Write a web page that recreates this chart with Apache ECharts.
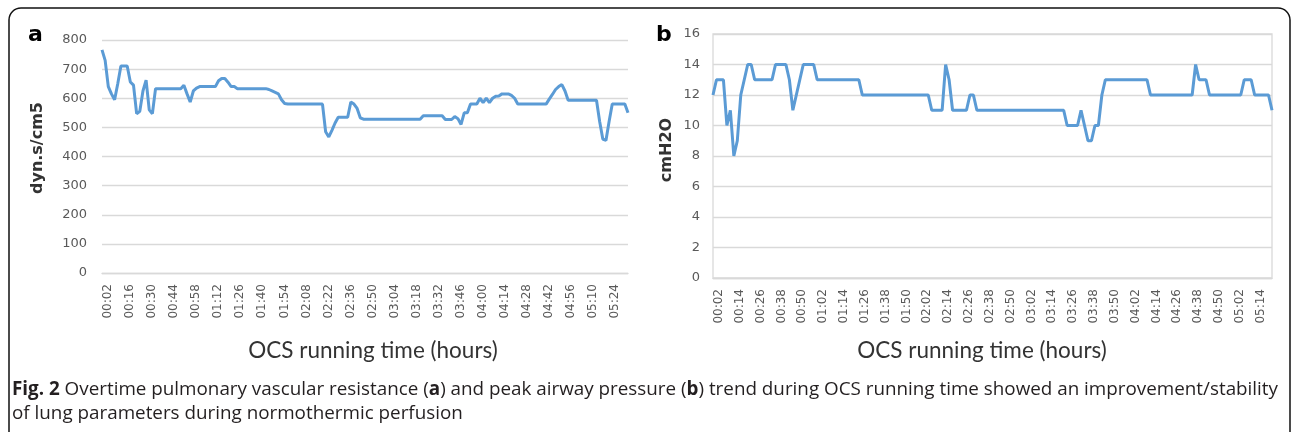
<!DOCTYPE html>
<html><head><meta charset="utf-8">
<script src="https://cdn.jsdelivr.net/npm/echarts@6/dist/echarts.min.js"></script>
<style>html,body{margin:0;padding:0;background:#fff;}#c{width:1292px;height:432px;}</style>
</head><body><div id="c"></div>
<script>
// ---- data ----
// (a) pulmonary vascular resistance, dyn.s/cm5, one reading every 2 minutes from 00:02
const pvrValues = [
  766,730,640,615,595,650,711,711,711,656,
  645,547,555,625,662,560,547,633,633,633,
  633,633,633,633,633,633,645,615,587,625,
  635,640,640,640,640,640,640,660,668,668,
  655,640,640,633,633,633,633,633,633,633,
  633,633,633,630,625,620,615,595,582,580,
  580,580,580,580,580,580,580,580,580,580,
  580,485,467,490,515,535,535,535,535,587,
  580,565,533,528,528,528,528,528,528,528,
  528,528,528,528,528,528,528,528,528,528,
  528,528,540,540,540,540,540,540,540,527,
  527,527,537,530,510,550,550,580,580,580,
  600,585,600,585,600,607,608,615,615,615,
  610,600,580,580,580,580,580,580,580,580,
  580,580,597,613,630,640,647,625,593,593,
  593,593,593,593,593,593,593,593,520,460,
  455,520,580,580,580,580,580,550
];
// (b) peak airway pressure, cmH2O, one reading every 2 minutes from 00:02
const pawValues = [
  12,13,13,13,10,11,8,9,12,13,
  14,14,13,13,13,13,13,13,14,14,
  14,14,13,11,12,13,14,14,14,14,
  13,13,13,13,13,13,13,13,13,13,
  13,13,13,12,12,12,12,12,12,12,
  12,12,12,12,12,12,12,12,12,12,
  12,12,12,11,11,11,11,14,13,11,
  11,11,11,11,12,12,11,11,11,11,
  11,11,11,11,11,11,11,11,11,11,
  11,11,11,11,11,11,11,11,11,11,
  11,11,10,10,10,10,11,10,9,9,
  10,10,12,13,13,13,13,13,13,13,
  13,13,13,13,13,13,12,12,12,12,
  12,12,12,12,12,12,12,12,12,14,
  13,13,13,12,12,12,12,12,12,12,
  12,12,12,13,13,13,12,12,12,12,
  12,11
];
const startMinute = 2;
const stepMinutes = 2;
function hhmm(m){const h=Math.floor(m/60),mm=m%60;return String(h).padStart(2,'0')+':'+String(mm).padStart(2,'0');}
const pvrCategories = pvrValues.map((_, i) => hhmm(startMinute + stepMinutes * i));
const pawCategories = pawValues.map((_, i) => hhmm(startMinute + stepMinutes * i));
const pvrAxis = {min: 0, max: 800, interval: 100};
const pawAxis = {min: 0, max: 16, interval: 2};
const pvrLabelEvery = 7;   // 14 minutes
const pawLabelEvery = 6;   // 12 minutes
const panelLetters = ['a', 'b'];
const yNames = ['dyn.s/cm5', 'cmH2O'];
const xName = 'OCS running time (hours)';
const captionLine1 = [
  ['Fig. 2', true], [' Overtime pulmonary vascular resistance (', false], ['a', true],
  [') and peak airway pressure (', false], ['b', true],
  [') trend during OCS running time showed an improvement/stability', false]
];
const captionLine2 = [['of lung parameters during normothermic perfusion', false]];

// ---- styling ----
const LINE = '#5b9bd5', GRID = '#d9d9d9', TICK = '#595959';
const CAP_FONT = '"Open Sans"', CAP_SIZE = 19;
const cv = document.createElement('canvas').getContext('2d');
function measure(parts){let w=0;for(const [t,b] of parts){cv.font=(b?'bold ':'')+CAP_SIZE+'px '+CAP_FONT;w+=cv.measureText(t).width;}return w;}
function rich(parts){return parts.map(([t,b])=>b?'{b|'+t+'}':t.replace(/[{}|]/g,'')).join('');}
const CAP_X = 12, CAP_RIGHT = 1278;
const cap1Scale = (CAP_RIGHT - CAP_X) / measure(captionLine1);
const cap2Scale = cap1Scale;

const chart = echarts.init(document.getElementById('c'), null, {renderer: 'canvas'});
function xAxisCfg(cats, every, gridIndex){
  return {type:'category', gridIndex, data:cats, boundaryGap:false,
    axisLine:{show:true, lineStyle:{color:GRID, width:1.3}}, axisTick:{show:false},
    axisLabel:{rotate:90, interval:every-1, color:TICK, fontSize:12, fontFamily:'DejaVu Sans', margin:11, verticalAlign:'top'},
    splitLine:{show:false}};
}
function yAxisCfg(ax, gridIndex, margin){
  return {type:'value', gridIndex, min:ax.min, max:ax.max, interval:ax.interval,
    axisLine:{show:false}, axisTick:{show:false},
    axisLabel:{color:TICK, fontSize:13, fontFamily:'DejaVu Sans', margin},
    splitLine:{show:true, lineStyle:{color:GRID, width:1.3}}};
}
const richStyle = {b:{fontWeight:'bold', fontSize:CAP_SIZE, fontFamily:CAP_FONT, fill:'#231f20'}};
chart.setOption({
  animation:false,
  backgroundColor:'#fff',
  grid:[
    {left:102, top:40, width:526, height:233},
    {left:713, top:34, width:559, height:244, show:true, borderColor:GRID, borderWidth:1.3, backgroundColor:'transparent'}
  ],
  xAxis:[xAxisCfg(pvrCategories, pvrLabelEvery, 0), xAxisCfg(pawCategories, pawLabelEvery, 1)],
  yAxis:[yAxisCfg(pvrAxis, 0, 15), yAxisCfg(pawAxis, 1, 13)],
  series:[
    {type:'line', xAxisIndex:0, yAxisIndex:0, data:pvrValues, showSymbol:false, lineStyle:{color:LINE, width:3}, itemStyle:{color:LINE}},
    {type:'line', xAxisIndex:1, yAxisIndex:1, data:pawValues, showSymbol:false, lineStyle:{color:LINE, width:3}, itemStyle:{color:LINE}}
  ],
  graphic:[
    {type:'rect', z:-1, shape:{x:9, y:8, width:1281, height:440, r:12}, style:{fill:'none', stroke:'#111', lineWidth:1.5}},
    {type:'text', x:28, y:35, style:{text:panelLetters[0], fontSize:22, fontWeight:'bold', fontFamily:'DejaVu Sans', fill:'#000', verticalAlign:'middle'}},
    {type:'text', x:656, y:35, style:{text:panelLetters[1], fontSize:22, fontWeight:'bold', fontFamily:'DejaVu Sans', fill:'#000', verticalAlign:'middle'}},
    {type:'text', x:38, y:148, rotation:Math.PI/2, style:{text:yNames[0], fontSize:16, fontWeight:'bold', fontFamily:'DejaVu Sans', fill:'#333', align:'center', verticalAlign:'middle'}},
    {type:'text', x:667, y:150, rotation:Math.PI/2, style:{text:yNames[1], fontSize:16, fontWeight:'bold', fontFamily:'DejaVu Sans', fill:'#333', align:'center', verticalAlign:'middle'}},
    {type:'text', x:373, y:351, style:{text:xName, fontSize:22.5, fontFamily:'Lato', fill:'#333', align:'center', verticalAlign:'middle'}},
    {type:'text', x:982, y:351, style:{text:xName, fontSize:22.5, fontFamily:'Lato', fill:'#333', align:'center', verticalAlign:'middle'}},
    {type:'text', x:CAP_X, y:390, scaleX:cap1Scale, style:{text:rich(captionLine1), rich:richStyle, fontSize:CAP_SIZE, fontFamily:CAP_FONT, fill:'#231f20', align:'left', verticalAlign:'middle'}},
    {type:'text', x:CAP_X, y:414, scaleX:cap2Scale, style:{text:rich(captionLine2), rich:richStyle, fontSize:CAP_SIZE, fontFamily:CAP_FONT, fill:'#231f20', align:'left', verticalAlign:'middle'}}
  ]
});
</script></body></html>
